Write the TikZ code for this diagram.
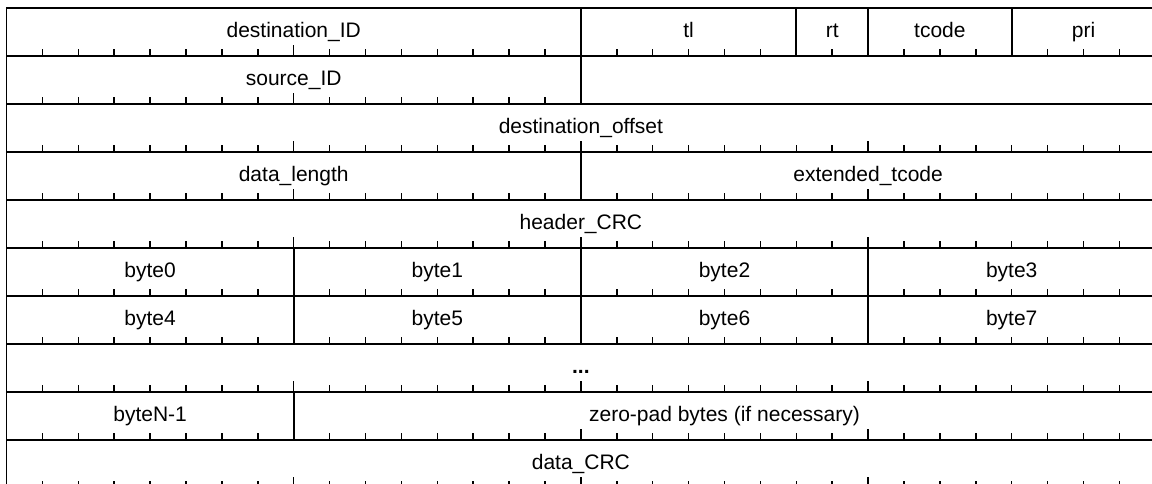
\documentclass[tikz,border=0pt]{standalone}
\usepackage{fontspec}
\setmainfont{Liberation Sans}
\begin{document}
% packet layout: 32 bits per row, one field box per field
\def\xo{6.5}   % left edge
\def\yo{8}     % top edge
\def\bw{35.9}  % width of one bit
\def\rh{48}    % height of one row
\tikzset{
  fieldline/.style={line width=1.8pt},
  bittick/.style={line width=1.5pt},
  fieldlabel/.style={anchor=base, inner sep=0pt, font=\fontsize{21}{25}\selectfont},
}
% #1 node name, #2 row, #3 first bit, #4 end bit, #5 label
\newcommand\pktfield[5]{%
  \draw[fieldline] ({\xo+#3*\bw},{\yo+#2*\rh}) rectangle ({\xo+#4*\bw},{\yo+(#2+1)*\rh});
  \node[fieldlabel] (#1) at ({\xo+(#3+#4)/2*\bw},{\yo+#2*\rh+29.5}) {#5};
  \pgfmathtruncatemacro\tka{#3+1}%
  \pgfmathtruncatemacro\tkb{#4-1}%
  \ifnum\tka>\tkb\else
    \foreach \b in {\tka,...,\tkb}{%
      \pgfmathsetmacro\tklen{mod(\b,8)==0 ? 11 : 7}%
      \draw[bittick] ({\xo+\b*\bw},{\yo+(#2+1)*\rh}) -- ++(0,-\tklen);
    }%
  \fi
}
\begin{tikzpicture}[x=1pt,y=-1pt]
\useasboundingbox (0,0) rectangle (1152,483);
% row 0
\pktfield{dstid}{0}{0}{16}{destination\_ID}
\pktfield{tl}{0}{16}{22}{tl}
\pktfield{rt}{0}{22}{24}{rt}
\pktfield{tcode}{0}{24}{28}{tcode}
\pktfield{pri}{0}{28}{32}{pri}
% row 1
\pktfield{srcid}{1}{0}{16}{source\_ID}
\coordinate (srcend) at ({\xo+16*\bw},{\yo+2*\rh});
\coordinate (rowend) at ({\xo+32*\bw},{\yo+2*\rh});
\draw[line width=1.8pt] (srcend) -- ++(9,0);
\draw[line width=0.7pt, gray!80] ([xshift=9pt]srcend) -- ([xshift=-9pt]rowend);
\draw[line width=1.8pt] ([xshift=-9pt]rowend) -- (rowend);
% rows 2-9
\pktfield{dstoff}{2}{0}{32}{destination\_offset}
\pktfield{dlen}{3}{0}{16}{data\_length}
\pktfield{xtcode}{3}{16}{32}{extended\_tcode}
\pktfield{hcrc}{4}{0}{32}{header\_CRC}
\pktfield{b0}{5}{0}{8}{byte0}
\pktfield{b1}{5}{8}{16}{byte1}
\pktfield{b2}{5}{16}{24}{byte2}
\pktfield{b3}{5}{24}{32}{byte3}
\pktfield{b4}{6}{0}{8}{byte4}
\pktfield{b5}{6}{8}{16}{byte5}
\pktfield{b6}{6}{16}{24}{byte6}
\pktfield{b7}{6}{24}{32}{byte7}
\pktfield{dots}{7}{0}{32}{\textbf{...}}
\pktfield{bn}{8}{0}{8}{byteN-1}
\pktfield{zpad}{8}{8}{32}{zero-pad bytes (if necessary)}
\pktfield{dcrc}{9}{0}{32}{data\_CRC}
\end{tikzpicture}
\end{document}
